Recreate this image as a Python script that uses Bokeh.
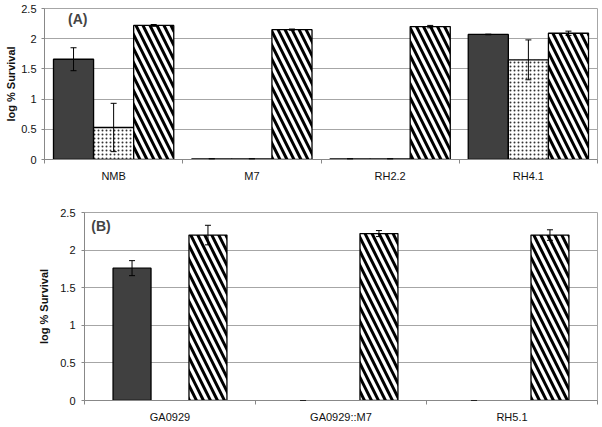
import numpy as np
from bokeh.plotting import figure
from bokeh.models import ColumnDataSource, Whisker, TeeHead, FixedTicker, Range1d, Label
from bokeh.embed import file_html
from bokeh.resources import INLINE

# ---- data ----
cats_a = ["NMB", "M7", "RH2.2", "RH4.1"]
dark_a = [1.66, 0.01, 0.01, 2.07]
dark_err_a = [0.19, 0.0, 0.0, 0.005]
dot_a = [0.53, 0.01, 0.01, 1.65]
dot_err_a = [0.40, 0.0, 0.0, 0.33]
hatch_a = [2.22, 2.15, 2.20, 2.09]
hatch_err_a = [0.015, 0.01, 0.02, 0.035]

cats_b = ["GA0929", "GA0929::M7", "RH5.1"]
dark_b = [1.76, 0.0, 0.0]
dark_err_b = [0.10, 0.0, 0.0]
hatch_b = [2.20, 2.22, 2.20]
hatch_err_b = [0.13, 0.04, 0.07]

y_ticks = [0, 0.5, 1, 1.5, 2, 2.5]
y_tick_labels = ["0", "0.5", "1", "1.5", "2", "2.5"]
y_title = "log % Survival"

FONT = "Liberation Sans"
GRID = "#a6a6a6"


def styled(cats, width, height, mb_left, mb_top, mb_bottom, lab_standoff, title_standoff):
    n = len(cats)
    p = figure(width=width, height=height, x_range=Range1d(0, n), y_range=Range1d(0, 2.5),
               output_backend="svg", toolbar_location=None,
               min_border_left=mb_left, min_border_right=1,
               min_border_top=mb_top, min_border_bottom=mb_bottom)
    centers = [i + 0.5 for i in range(n)]
    p.xaxis.ticker = FixedTicker(ticks=centers, minor_ticks=list(range(n + 1)))
    p.xaxis.major_label_overrides = {c: name for c, name in zip(centers, cats)}
    p.xaxis.major_tick_line_color = None
    p.xaxis.major_tick_out = 0
    p.xaxis.major_tick_in = 0
    p.xaxis.minor_tick_in = 0
    p.xaxis.minor_tick_out = 4
    p.xaxis.minor_tick_line_color = "#888888"
    p.xaxis.major_label_standoff = 6
    p.xaxis.major_label_text_font = FONT
    p.xaxis.major_label_text_font_size = "11px"
    p.xaxis.major_label_text_color = "#111111"
    p.xaxis.axis_line_color = "#888888"

    p.yaxis.ticker = FixedTicker(ticks=y_ticks, minor_ticks=[])
    p.yaxis.major_label_overrides = {t: s for t, s in zip(y_ticks, y_tick_labels)}
    p.yaxis.major_tick_in = 0
    p.yaxis.major_tick_out = 3
    p.yaxis.major_tick_line_color = "#888888"
    p.yaxis.axis_line_color = "#888888"
    p.yaxis.major_label_standoff = lab_standoff
    p.yaxis.major_label_text_font = FONT
    p.yaxis.major_label_text_font_size = "11px"
    p.yaxis.major_label_text_color = "#111111"
    p.yaxis.axis_label = y_title
    p.yaxis.axis_label_text_font = FONT
    p.yaxis.axis_label_text_font_style = "bold"
    p.yaxis.axis_label_text_font_size = "11px"
    p.yaxis.axis_label_text_color = "#111111"
    p.yaxis.axis_label_standoff = title_standoff

    p.xgrid.visible = False
    p.ygrid.grid_line_color = GRID
    p.outline_line_color = GRID
    p.background_fill_color = "white"
    p.border_fill_color = "white"
    return p


def add_series(p, vals, errs, offset, bw, kind, skip_zero=False):
    xs = [i + 0.5 + offset for i in range(len(vals))]
    tops = [np.nan if (skip_zero and v == 0) else v for v in vals]
    src = ColumnDataSource(dict(x=xs, top=tops))
    kw = dict(x="x", top="top", bottom=0, width=bw, source=src,
              line_color="black", line_width=1.3)
    if kind == "dark":
        p.vbar(fill_color="#404040", **kw)
    elif kind == "dot":
        p.vbar(fill_color="white", hatch_pattern="dot", hatch_color="#333333",
               hatch_scale=4, hatch_weight=0.8, **kw)
    else:
        p.vbar(fill_color="white", hatch_pattern="left_diagonal_line", hatch_color="black",
               hatch_scale=14, hatch_weight=3, **kw)
    esrc = ColumnDataSource(dict(x=xs, upper=[v + e for v, e in zip(vals, errs)],
                                 lower=[max(v - e, 0) for v, e in zip(vals, errs)]))
    w = Whisker(base="x", upper="upper", lower="lower", source=esrc,
                line_color="black", line_width=1, level="annotation",
                upper_head=TeeHead(size=6, line_color="black", line_width=1),
                lower_head=TeeHead(size=6, line_color="black", line_width=1))
    p.add_layout(w)


# Panel A
pa = styled(cats_a, 598, 184, 44, 8, 25, 5, 1)
bw_a = 0.29
add_series(pa, dark_a, dark_err_a, -bw_a, bw_a, "dark")
add_series(pa, dot_a, dot_err_a, 0.0, bw_a, "dot")
add_series(pa, hatch_a, hatch_err_a, bw_a, bw_a, "hatch")
pa.add_layout(Label(x=0.17, y=2.32, text="(A)", text_font=FONT, text_font_style="bold",
                    text_font_size="14px", text_baseline="middle", text_align="left"))

# Panel B
pb = styled(cats_b, 598, 241, 84, 28, 25, 6, 7)
bw_b = 0.222
add_series(pb, dark_b, dark_err_b, -bw_b, bw_b, "dark", skip_zero=True)
add_series(pb, hatch_b, hatch_err_b, bw_b, bw_b, "hatch")
pb.add_layout(Label(x=0.04, y=2.32, text="(B)", text_font=FONT, text_font_style="bold",
                    text_font_size="14px", text_baseline="middle", text_align="left"))

open("out.html", "w").write(file_html([pa, pb], INLINE))
